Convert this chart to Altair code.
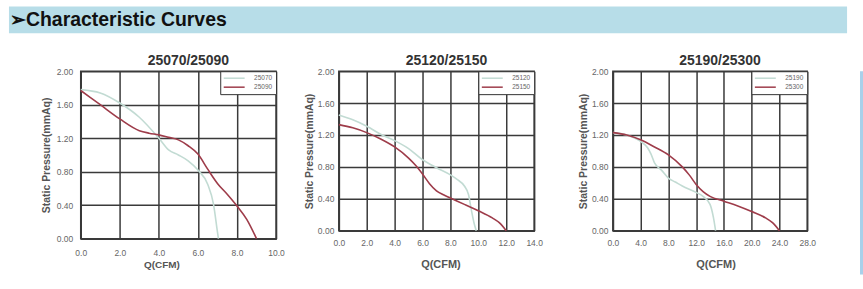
import altair as alt
import pandas as pd

FONT = "Liberation Sans"
GREEN = "#c2dbd3"
RED = "#9e3c4a"
GRID = "#3a3a3a"

header_text = "➢Characteristic Curves"
x_title = "Q(CFM)"
y_title = "Static Pressure(mmAq)"
y_ticks = [0.0, 0.4, 0.8, 1.2, 1.6, 2.0]

# Panel 1: 25070 / 25090
p1_title = "25070/25090"
p1_names = ["25070", "25090"]
p1_x_ticks = [0, 2, 4, 6, 8, 10]
p1_a_q = [0, 1, 2, 3, 4, 4.5, 5, 5.5, 6, 6.5, 6.8, 7.0, 7.05]
p1_a_p = [1.78, 1.74, 1.62, 1.45, 1.20, 1.06, 1.00, 0.93, 0.82, 0.65, 0.41, 0.08, 0.0]
p1_b_q = [0, 1, 2, 3, 3.5, 4, 4.5, 5, 5.5, 6, 6.5, 7, 7.5, 8, 8.5, 9]
p1_b_p = [1.77, 1.60, 1.43, 1.29, 1.26, 1.24, 1.21, 1.18, 1.11, 1.01, 0.83, 0.66, 0.53, 0.39, 0.23, 0.0]

# Panel 2: 25120 / 25150
p2_title = "25120/25150"
p2_names = ["25120", "25150"]
p2_x_ticks = [0, 2, 4, 6, 8, 10, 12, 14]
p2_a_q = [0, 1, 2, 3, 4, 5, 6, 7, 8, 8.5, 9, 9.3, 9.5, 9.7, 9.85]
p2_a_p = [1.45, 1.39, 1.31, 1.21, 1.13, 1.03, 0.89, 0.79, 0.70, 0.64, 0.56, 0.45, 0.26, 0.09, 0.0]
p2_b_q = [0, 1, 2, 3, 4, 5, 5.5, 6, 6.5, 7, 7.5, 8, 9, 10, 11, 11.5, 12]
p2_b_p = [1.33, 1.29, 1.23, 1.15, 1.05, 0.91, 0.82, 0.71, 0.59, 0.50, 0.45, 0.41, 0.33, 0.25, 0.16, 0.10, 0.0]

# Panel 3: 25190 / 25300
p3_title = "25190/25300"
p3_names = ["25190", "25300"]
p3_x_ticks = [0, 4, 8, 12, 16, 20, 24, 28]
p3_a_q = [0, 2, 4, 5, 5.5, 6, 7, 8, 9, 10, 12, 13, 14, 14.5, 14.8]
p3_a_p = [1.23, 1.20, 1.12, 1.04, 0.96, 0.85, 0.76, 0.66, 0.61, 0.56, 0.48, 0.43, 0.33, 0.16, 0.0]
p3_b_q = [0, 2, 4, 6, 8, 10, 11, 12, 13, 14, 16, 18, 20, 22, 23, 24]
p3_b_p = [1.23, 1.20, 1.14, 1.05, 0.95, 0.80, 0.70, 0.58, 0.49, 0.43, 0.37, 0.31, 0.24, 0.16, 0.10, 0.0]


def panel(title, names, aq, ap, bq, bp, xticks, w, h, lab_pad_y, lab_pad_x,
          ttl_pad_y, ttl_pad_x, xtitle_x, xtitle_size):
    df = pd.DataFrame({
        "Q": aq + bq,
        "P": ap + bp,
        "model": [names[0]] * len(aq) + [names[1]] * len(bq),
    })
    return alt.Chart(df).mark_line(interpolate="monotone", strokeWidth=1.6).encode(
        x=alt.X("Q:Q",
                scale=alt.Scale(domain=[xticks[0], xticks[-1]], nice=False, zero=False),
                axis=alt.Axis(values=xticks, format=".1f", title=x_title,
                              labelFont=FONT, labelFontSize=8.5, labelColor="#666",
                              labelPadding=lab_pad_x, labelFlush=False, labelOverlap=False,
                              ticks=False, domainColor=GRID, domainWidth=1.5,
                              gridColor=GRID, gridWidth=1.5,
                              titleFont=FONT, titleFontSize=xtitle_size, titleFontWeight="bold",
                              titleColor="#555", titlePadding=ttl_pad_x, titleX=xtitle_x)),
        y=alt.Y("P:Q",
                scale=alt.Scale(domain=[0, 2], nice=False),
                axis=alt.Axis(values=y_ticks, format=".2f", title=y_title,
                              labelFont=FONT, labelFontSize=8.5, labelColor="#666",
                              labelPadding=lab_pad_y, labelOverlap=False,
                              ticks=False, domainColor=GRID, domainWidth=1.5,
                              gridColor=GRID, gridWidth=1.5,
                              titleFont=FONT, titleFontSize=10.5, titleFontWeight="bold",
                              titleColor="#555", titlePadding=ttl_pad_y)),
        color=alt.Color("model:N",
                        scale=alt.Scale(domain=names, range=[GREEN, RED]),
                        legend=alt.Legend(orient="top-right", offset=0, title=None,
                                          padding=3, strokeColor="#333", fillColor="white",
                                          symbolType="M-3.5,0H3.5", symbolSize=36,
                                          symbolStrokeWidth=1.5, symbolOffset=7,
                                          labelOffset=16, labelFont=FONT, labelFontSize=6.5,
                                          labelColor="#666", rowPadding=1)),
    ).properties(
        width=w, height=h,
        title=alt.TitleParams(title, font=FONT, fontSize=14, fontWeight="bold",
                              color="#333", dx=10, offset=-12, baseline="alphabetic"),
        view=alt.ViewBackground(stroke=GRID, strokeWidth=1.5, fill="white"),
    )


p1 = panel(p1_title, p1_names, p1_a_q, p1_a_p, p1_b_q, p1_b_p, p1_x_ticks,
           196, 168, 8, 10, 5, 2, 81, 10)
p2 = panel(p2_title, p2_names, p2_a_q, p2_a_p, p2_b_q, p2_b_p, p2_x_ticks,
           196, 160, 5, 8, 3, 11, 102, 11)
p3 = panel(p3_title, p3_names, p3_a_q, p3_a_p, p3_b_q, p3_b_p, p3_x_ticks,
           195, 160, 5, 8, 3, 11, 103, 11)


def blank(w, h, fill=None):
    view = alt.ViewBackground(stroke=None, fill=fill) if fill else alt.ViewBackground(stroke=None)
    return alt.Chart(pd.DataFrame({"v": [0]})).mark_rule(strokeOpacity=0).encode(
        x=alt.value(0), y=alt.value(0), y2=alt.value(0)
    ).properties(width=w, height=h, view=view)


header = alt.Chart(pd.DataFrame({"t": [header_text]})).mark_text(
    align="left", baseline="alphabetic", font=FONT, fontSize=19.5, fontWeight="bold", color="#111"
).encode(text="t:N", x=alt.value(1), y=alt.value(20)).properties(
    width=841, height=27, view=alt.ViewBackground(stroke=None, fill="#b7dde8"))

g12 = alt.hconcat(p1, p2, spacing=17).resolve_scale(color="independent")
g123 = alt.hconcat(g12, p3, spacing=33).resolve_scale(color="independent")
g_bar = alt.hconcat(g123, blank(3, 204, "#a9d0ea"), spacing=43).resolve_scale(color="independent")
row = alt.hconcat(blank(31, 1), g_bar, spacing=0).resolve_scale(color="independent")

chart = alt.vconcat(header, row, spacing=20).resolve_scale(color="independent").properties(
    padding={"left": 9, "top": 6, "right": 0, "bottom": 0},
    background="white",
)

chart.save("out.html", embed_options={"renderer": "svg", "actions": False})
